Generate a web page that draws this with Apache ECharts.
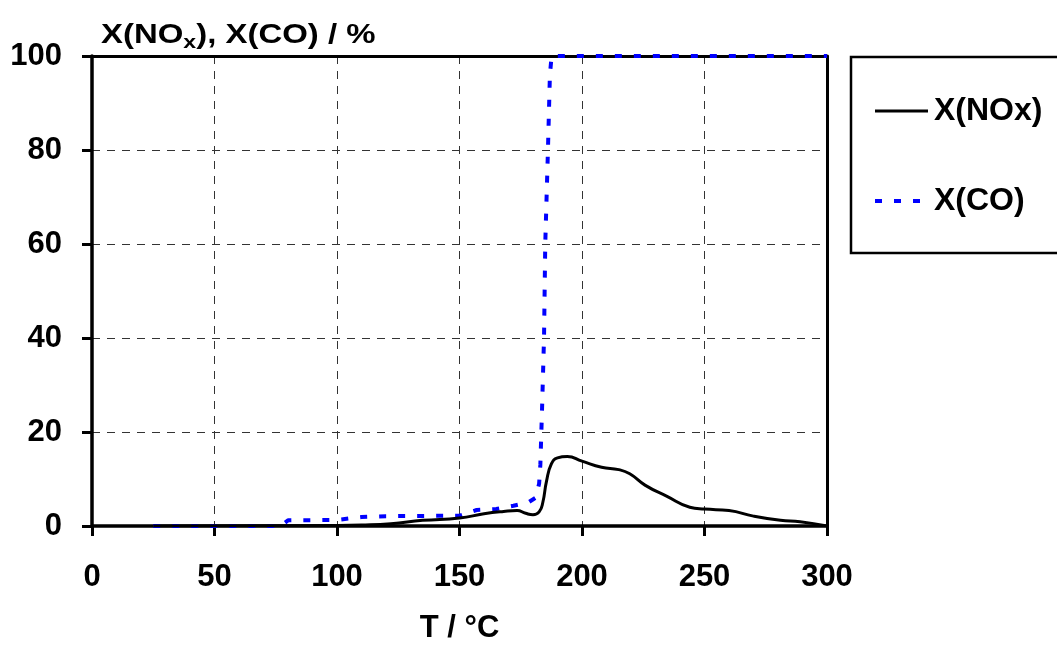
<!DOCTYPE html>
<html>
<head>
<meta charset="utf-8">
<script src="https://cdn.jsdelivr.net/npm/echarts@6/dist/echarts.min.js"></script>
<style>
  html, body { margin: 0; padding: 0; background: #fff; }
  #chart { width: 1057px; height: 649px; }
</style>
</head>
<body>
<div id="chart"></div>
<script>
// 温度 / 转化率数据
const tempNOx = [25, 100, 110, 122, 135, 150, 160, 168, 173.5, 177, 180, 182.5, 184, 185.5, 187.5, 190, 194, 200, 208, 215, 219.5, 225.7, 234.7, 244, 250, 260, 270, 281, 289, 300];
const valNOx  = [0, 0.1, 0.2, 0.5, 1.2, 1.7, 2.6, 3.1, 3.3, 2.7, 2.4, 3.0, 5, 9.5, 13.2, 14.5, 14.8, 13.8, 12.5, 12, 11.1, 8.7, 6.3, 4, 3.6, 3.3, 2.1, 1.2, 0.9, 0];

const tempCO = [25, 77, 80, 100, 110, 120, 150, 157, 165, 172, 178, 181, 182.5, 183, 183.7, 184.5, 185, 186.1, 186.9, 187.6, 300];
const valCO  = [0, 0, 1.2, 1.3, 1.9, 2.1, 2.2, 3.4, 3.6, 4.3, 5, 6, 9, 13, 25, 40, 60, 80, 96, 100, 100];

const seriesNames = ['X(NOx)', 'X(CO)'];
const xTicks = [0, 50, 100, 150, 200, 250, 300];
const yTicks = [0, 20, 40, 60, 80, 100];

const font = 'Liberation Sans, Arial, sans-serif';
const pairs = (xs, ys) => xs.map((x, i) => [x, ys[i]]);

let myChart = echarts.init(document.getElementById('chart'));

const gridDash = { color: '#333', width: 1, type: [8, 7] };
const labelText = { fontFamily: font, fontWeight: 'bold', fontSize: 31, color: '#000' };

const option = {
  animation: false,
  grid: { left: 92, right: 230, top: 56, bottom: 115, containLabel: false },
  xAxis: [{
    type: 'value',
    min: xTicks[0], max: xTicks[xTicks.length - 1], interval: 50,
    name: 'T / °C', nameLocation: 'middle', nameGap: 87,
    nameTextStyle: labelText,
    axisLine: { show: true, onZero: false, lineStyle: { color: '#000', width: 3.5 } },
    axisTick: { show: true, length: 10, lineStyle: { color: '#000', width: 3 } },
    axisLabel: Object.assign({ margin: 36 }, labelText),
    splitLine: { show: true, lineStyle: gridDash }
  }, {
    type: 'value', position: 'top',
    min: 0, max: 300,
    axisLine: { show: true, onZero: false, lineStyle: { color: '#000', width: 3 } },
    axisTick: { show: false }, axisLabel: { show: false }, splitLine: { show: false }
  }],
  yAxis: [{
    type: 'value',
    min: yTicks[0], max: yTicks[yTicks.length - 1], interval: 20,
    axisLine: { show: true, onZero: false, lineStyle: { color: '#000', width: 3.5 } },
    axisTick: { show: true, length: 10, lineStyle: { color: '#000', width: 3 } },
    axisLabel: Object.assign({ margin: 30 }, labelText),
    splitLine: { show: true, lineStyle: gridDash }
  }, {
    type: 'value', position: 'right',
    min: 0, max: 100,
    axisLine: { show: true, onZero: false, lineStyle: { color: '#000', width: 3 } },
    axisTick: { show: false }, axisLabel: { show: false }, splitLine: { show: false }
  }],
  // 图例用 graphic 画 (框 + 线 + 文字)
  graphic: [{
    type: 'rect',
    shape: { x: 851, y: 57, width: 230, height: 196 },
    style: { fill: 'none', stroke: '#000', lineWidth: 2.5 }
  }, {
    type: 'line',
    shape: { x1: 875, y1: 111, x2: 928, y2: 111 },
    style: { stroke: '#000', lineWidth: 3 }
  }, {
    type: 'text', x: 934, y: 111,
    style: { text: seriesNames[0], fontFamily: font, fontWeight: 'bold', fontSize: 32, fill: '#000', verticalAlign: 'middle' }
  }, {
    type: 'line',
    shape: { x1: 875, y1: 201, x2: 928, y2: 201 },
    style: { stroke: '#0000ff', lineWidth: 4, lineDash: [7, 12] }
  }, {
    type: 'text', x: 934, y: 201,
    style: { text: seriesNames[1], fontFamily: font, fontWeight: 'bold', fontSize: 32, fill: '#000', verticalAlign: 'middle' }
  }, {
    // 纵轴标题 (原图字体横向拉宽)
    type: 'text',
    x: 101, y: 19,
    scaleX: 1.22,
    style: {
      text: '{a|X(NO}{s|x}{a|), X(CO) / %}',
      rich: {
        a: { fontFamily: font, fontWeight: 'bold', fontSize: 27, fill: '#000' },
        s: { fontFamily: font, fontWeight: 'bold', fontSize: 19, fill: '#000', padding: [14, 0, 0, 0] }
      }
    }
  }],
  series: [{
    name: seriesNames[0],
    type: 'line',
    data: pairs(tempNOx, valNOx),
    smooth: 0.5,
    symbol: 'none',
    lineStyle: { color: '#000', width: 3 },
    z: 3
  }, {
    name: seriesNames[1],
    type: 'line',
    data: pairs(tempCO, valCO),
    symbol: 'none',
    lineStyle: { color: '#0000ff', width: 4, type: [7, 12] },
    z: 2
  }]
};

myChart.setOption(option);
</script>
</body>
</html>
